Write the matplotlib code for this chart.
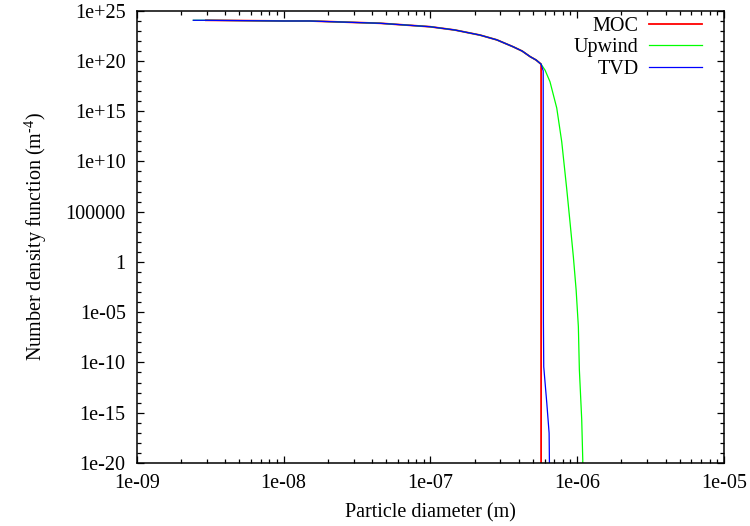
import matplotlib
matplotlib.use("Agg")
import matplotlib.pyplot as plt
from matplotlib.ticker import FixedLocator, NullFormatter

plt.rcParams['font.family'] = ['Liberation Serif', 'DejaVu Serif']
plt.rcParams['mathtext.fontset'] = 'custom'
plt.rcParams['mathtext.rm'] = 'Liberation Serif'
plt.rcParams['mathtext.it'] = 'Liberation Serif:italic'

# Shared body of the distribution (all schemes agree here)
body_d = [2.43e-9, 2.96e-9, 1.0e-8, 1.51e-8, 4.54e-8, 9.95e-8, 1.47e-7, 2.18e-7,
          2.84e-7, 3.66e-7, 4.22e-7, 4.78e-7, 5.25e-7, 5.68e-7]
body_n = [1.07e24, 1.07e24, 9.1e23, 9.1e23, 5.4e23, 2.45e23, 1.15e23, 3.6e22,
          1.2e22, 2.5e21, 9.3e20, 2.6e20, 1.2e20, 4.6e19]

# MOC: sharp cut-off
moc_tail_d = [5.68e-7, 5.68e-7]
moc_tail_n = [4.6e19, 1e-30]

# Upwind: diffusive tail
up_tail_d = [5.68e-7, 6.04e-7, 6.53e-7, 7.26e-7, 7.85e-7, 8.49e-7, 8.95e-7, 9.42e-7,
             9.84e-7, 1.019e-6, 1.035e-6, 1.074e-6, 1.092e-6, 1.092e-6]
up_tail_n = [4.6e19, 1.2e19, 8.3e17, 2.0e15, 8.9e11, 1.8e7, 7.4e3, 3.3,
             1.6e-3, 3.6e-7, 2e-11, 2.1e-16, 2e-20, 1e-30]

# TVD: narrow tail
tvd_tail_d = [5.68e-7, 5.87e-7, 5.89e-7, 5.92e-7, 6.21e-7, 6.44e-7, 6.47e-7, 6.47e-7]
tvd_tail_n = [4.6e19, 1e19, 1e-6, 3.7e-11, 9.3e-15, 9.5e-18, 2e-20, 1e-30]

x_ticks = [1e-9, 1e-8, 1e-7, 1e-6, 1e-5]
x_labels = ['1e-09', '1e-08', '1e-07', '1e-06', '1e-05']
y_ticks = [1e25, 1e20, 1e15, 1e10, 1e5, 1, 1e-5, 1e-10, 1e-15, 1e-20]
y_labels = ['1e+25', '1e+20', '1e+15', '1e+10', '100000', '1', '1e-05', '1e-10', '1e-15', '1e-20']

FS = 14.5

fig = plt.figure(figsize=(7.5, 5.26), dpi=100)
ax = fig.add_axes([0.1823, 0.1198, 0.9653 - 0.1823, 0.980 - 0.1198])

moc_d = body_d[1:] + moc_tail_d[1:]
moc_n = body_n[1:] + moc_tail_n[1:]
up_d = body_d + up_tail_d[1:]
up_n = body_n + up_tail_n[1:]
tvd_d = body_d + tvd_tail_d[1:]
tvd_n = body_n + tvd_tail_n[1:]

ax.plot(moc_d, moc_n, color='#ff0000', lw=1.3, label='MOC')
ax.plot(up_d, up_n, color='#00ff00', lw=0.9, label='Upwind')
ax.plot(tvd_d, tvd_n, color='#0000ff', lw=0.9, label='TVD')

ax.set_xscale('log')
ax.set_yscale('log')
ax.set_xlim(1e-9, 1e-5)
ax.set_ylim(1e-20, 1e25)

ax.xaxis.set_major_locator(FixedLocator(x_ticks))
ax.set_xticklabels(x_labels)
ax.xaxis.set_minor_locator(FixedLocator([m * 10.0**e for e in range(-9, -5) for m in range(2, 10)]))
ax.xaxis.set_minor_formatter(NullFormatter())
ax.yaxis.set_major_locator(FixedLocator(y_ticks))
ax.set_yticklabels(y_labels)
ax.yaxis.set_minor_locator(FixedLocator([10.0**e for e in range(-20, 26)]))
ax.yaxis.set_minor_formatter(NullFormatter())

ax.tick_params(which='both', direction='in', top=True, right=True, labelsize=FS, width=0.9)
ax.tick_params(which='major', length=5, pad=8)
ax.tick_params(which='minor', length=3)
for s in ax.spines.values():
    s.set_linewidth(1.1)

ax.set_xlabel('Particle diameter (m)', fontsize=FS, labelpad=7)
ax.set_ylabel('Number density function (m$^{\\text{-}4}$)', fontsize=FS, labelpad=12)

ax.legend(loc='upper right', frameon=False, markerfirst=False, fontsize=FS,
          handlelength=2.6, handletextpad=0.55, labelspacing=0.1,
          borderaxespad=0.8, borderpad=0.3, bbox_to_anchor=(1.0, 1.034))

fig.savefig('out.png', dpi=100)
